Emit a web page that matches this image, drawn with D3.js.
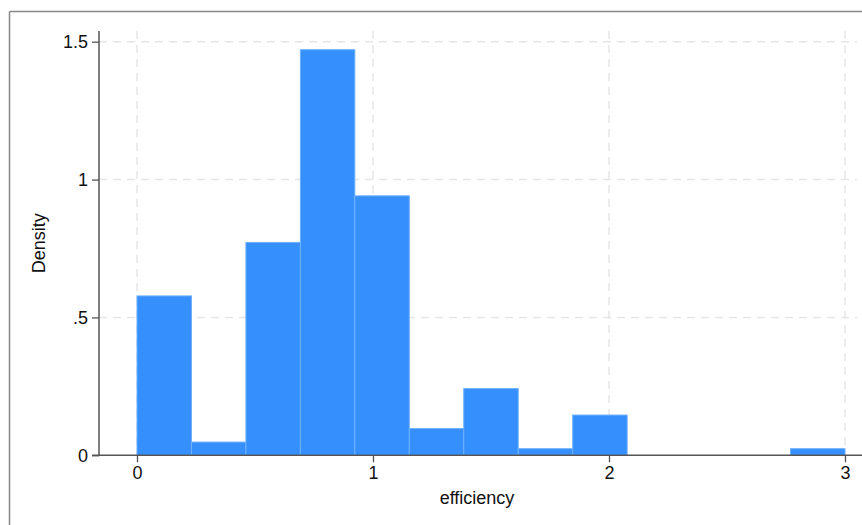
<!DOCTYPE html>
<html>
<head>
<meta charset="utf-8">
<script src="https://cdn.jsdelivr.net/npm/d3@7"></script>
<style>
  body { margin: 0; background: #fff; }
  svg { font-family: "Liberation Sans", Arial, sans-serif; }
</style>
</head>
<body>
<div id="chart"></div>
<script>
// histogram of efficiency: 13 bins over [0, 3]
const binStart = 0;
const binEnd = 3;
const binCount = 13;
const densities = [0.578, 0.048, 0.772, 1.471, 0.941, 0.097, 0.242, 0.024, 0.146, 0, 0, 0, 0.024];
const xTicks = [0, 1, 2, 3];
const yTicks = [0, 0.5, 1, 1.5];
const yTickLabels = ["0", ".5", "1", "1.5"];

const w = 862;
const h = 525;

const svg = d3.select("#chart").append("svg")
  .attr("width", w)
  .attr("height", h);

// outer frame (top + left edges visible)
svg.append("line").attr("x1", 9.5).attr("x2", w).attr("y1", 11.5).attr("y2", 11.5)
  .attr("stroke", "#888").attr("stroke-width", 1.5);
svg.append("line").attr("x1", 9.5).attr("x2", 9.5).attr("y1", 11.5).attr("y2", h)
  .attr("stroke", "#888").attr("stroke-width", 1.5);

const xScale = d3.scaleLinear().domain([0, 3]).range([137, 845]);
const yScale = d3.scaleLinear().domain([0, 1.5]).range([455.3, 41.7]);

const plotLeft = 99, plotRight = 857, plotTop = 31;

// grid
svg.append("g").selectAll("line").data(yTicks.filter(d => d > 0)).enter().append("line")
  .attr("x1", plotLeft).attr("x2", plotRight)
  .attr("y1", d => yScale(d)).attr("y2", d => yScale(d))
  .attr("stroke", "#e6e6e6").attr("stroke-width", 1.5).attr("stroke-dasharray", "8,6");
svg.append("g").selectAll("line").data(xTicks).enter().append("line")
  .attr("x1", d => xScale(d)).attr("x2", d => xScale(d))
  .attr("y1", plotTop).attr("y2", yScale(0))
  .attr("stroke", "#e6e6e6").attr("stroke-width", 1.5).attr("stroke-dasharray", "8,6");

// bars
const binWidth = (binEnd - binStart) / binCount;
const bins = densities.map((d, i) => ({ x0: binStart + i * binWidth, x1: binStart + (i + 1) * binWidth, y: d }));
svg.append("g").selectAll("rect").data(bins.filter(b => b.y > 0)).enter().append("rect")
  .attr("x", d => xScale(d.x0))
  .attr("y", d => yScale(d.y))
  .attr("width", d => xScale(d.x1) - xScale(d.x0))
  .attr("height", d => yScale(0) - yScale(d.y))
  .attr("fill", "#3590fe")
  .attr("stroke", "#6fb0fd")
  .attr("stroke-width", 1);

// axes
const xAxis = d3.axisBottom(xScale).tickValues(xTicks).tickFormat(d3.format("d")).tickSize(7).tickPadding(4);
const yAxis = d3.axisLeft(yScale).tickValues(yTicks).tickFormat((d, i) => yTickLabels[i]).tickSize(7).tickPadding(4);

const gx = svg.append("g").attr("transform", `translate(0, ${yScale(0)})`).call(xAxis);
gx.select(".domain").attr("d", `M${plotLeft - 7},0H${w}`);
const gy = svg.append("g").attr("transform", `translate(${plotLeft}, 0)`).call(yAxis);
gy.select(".domain").attr("d", `M0,${plotTop}V${yScale(0)}`);

[gx, gy].forEach(g => {
  g.selectAll(".domain").attr("stroke", "#555").attr("stroke-width", 1.5);
  g.selectAll(".tick line").attr("stroke", "#555").attr("stroke-width", 1.3);
  g.selectAll(".tick text").attr("fill", "#111").style("font-size", "18px")
    .style("font-family", "'Liberation Sans', Arial, sans-serif");
});

svg.append("text")
  .attr("x", 477).attr("y", 504)
  .attr("text-anchor", "middle")
  .attr("fill", "#111")
  .style("font-size", "18px")
  .text("efficiency");

svg.append("text")
  .attr("transform", `translate(45, ${(plotTop + yScale(0)) / 2}) rotate(-90)`)
  .attr("text-anchor", "middle")
  .attr("fill", "#111")
  .style("font-size", "18px")
  .text("Density");
</script>
</body>
</html>
